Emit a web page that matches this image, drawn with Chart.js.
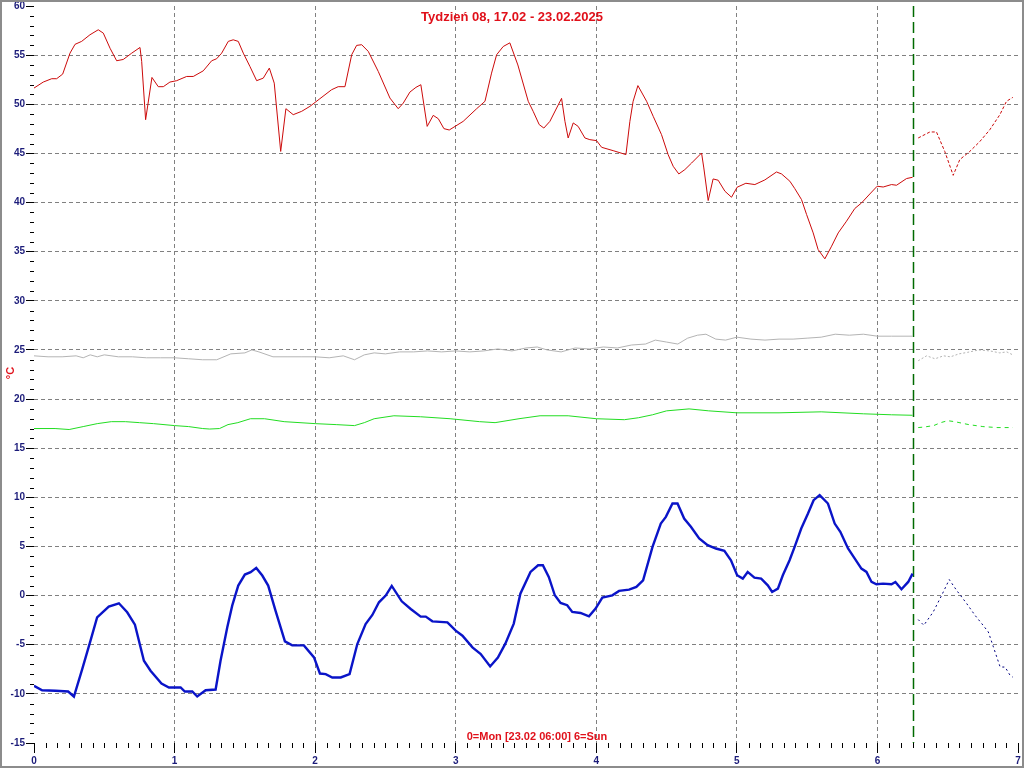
<!DOCTYPE html>
<html>
<head>
<meta charset="utf-8">
<title>Tydzień 08</title>
<script src="https://cdn.jsdelivr.net/npm/chart.js@4.4.0/dist/chart.umd.min.js"></script>
<style>
  html, body { margin: 0; padding: 0; background: #fff; }
  canvas { display: block; }
</style>
</head>
<body>
<canvas id="chart" width="1024" height="768"></canvas>
<script>
// x = day of week (0 = Mon 00:00), y = temperature in °C
const titleText = 'Tydzień 08, 17.02 - 23.02.2025';
const footText = '0=Mon [23.02 06:00] 6=Sun';
const yAxisText = '°C';
const nowDay = 6.25;

// red series (measured + forecast)
const redX = [0, 0.066, 0.126, 0.161, 0.204, 0.256, 0.292, 0.339, 0.398, 0.457,
  0.493, 0.541, 0.588, 0.635, 0.695, 0.754, 0.766, 0.794, 0.839, 0.884,
  0.92, 0.967, 1.015, 1.086, 1.133, 1.204, 1.264, 1.299, 1.335, 1.382,
  1.417, 1.453, 1.489, 1.536, 1.584, 1.631, 1.674, 1.709, 1.755, 1.792,
  1.844, 1.904, 1.963, 2.034, 2.117, 2.164, 2.212, 2.26, 2.295, 2.331,
  2.378, 2.449, 2.532, 2.591, 2.627, 2.674, 2.717, 2.752, 2.797, 2.84,
  2.876, 2.916, 2.954, 3.053, 3.149, 3.208, 3.255, 3.291, 3.338, 3.385,
  3.442, 3.516, 3.551, 3.594, 3.627, 3.67, 3.718, 3.753, 3.777, 3.8,
  3.836, 3.871, 3.919, 3.954, 4.002, 4.038, 4.12, 4.211, 4.239, 4.262,
  4.296, 4.358, 4.405, 4.464, 4.511, 4.547, 4.587, 4.63, 4.678, 4.749,
  4.765, 4.796, 4.831, 4.867, 4.915, 4.962, 5.002, 5.064, 5.128, 5.199,
  5.282, 5.318, 5.377, 5.412, 5.46, 5.496, 5.543, 5.578, 5.626, 5.674,
  5.721, 5.78, 5.839, 5.887, 5.946, 5.998, 6.041, 6.1, 6.136, 6.207, 6.25];
const redY = [51.65, 52.26, 52.6, 52.6, 53.07, 55.2, 56.1, 56.4, 57.07, 57.58,
  57.24, 55.7, 54.43, 54.56, 55.2, 55.78, 54.36, 48.43, 52.73, 51.79,
  51.79, 52.26, 52.4, 52.83, 52.83, 53.4, 54.43, 54.63, 55.2, 56.4,
  56.56, 56.4, 55.2, 53.85, 52.4, 52.66, 53.68, 52.15, 45.2, 49.55,
  48.94, 49.28, 49.79, 50.57, 51.48, 51.79, 51.79, 55.04, 55.99, 56.06,
  55.38, 53.34, 50.63, 49.55, 50.12, 51.24, 51.72, 51.99, 47.75, 48.87,
  48.53, 47.52, 47.38, 48.26, 49.55, 50.3, 53.17, 55.04, 55.88, 56.25,
  54.0, 50.3, 49.28, 47.93, 47.58, 48.26, 49.62, 50.6, 48.26, 46.57,
  48.1, 47.75, 46.57, 46.4, 46.3, 45.62, 45.28, 44.88, 48.26, 50.3,
  51.9, 50.3, 48.77, 46.91, 44.88, 43.69, 42.91, 43.35, 44.02, 45.04,
  43.52, 40.2, 42.4, 42.27, 41.15, 40.54, 41.56, 41.96, 41.83, 42.3,
  43.11, 42.91, 42.17, 41.42, 40.3, 38.78, 36.91, 35.22, 34.27, 35.56,
  36.91, 38.1, 39.39, 39.96, 40.87, 41.66, 41.58, 41.83, 41.76, 42.44, 42.57];
const redFcX = [6.29, 6.373, 6.42, 6.479, 6.539, 6.586, 6.657, 6.728, 6.799, 6.871, 6.918, 6.963];
const redFcY = [46.57, 47.18, 47.18, 45.2, 42.77, 44.37, 45.2, 46.2, 47.4, 48.94, 50.3, 50.7];

// gray series
const grayX = [0, 0.1, 0.2, 0.3, 0.35, 0.4, 0.45, 0.5, 0.6, 0.7, 0.8, 0.9, 1.0, 1.1, 1.2, 1.3, 1.4,
  1.5, 1.55, 1.6, 1.7, 1.8, 1.9, 2.0, 2.1, 2.2, 2.28, 2.35, 2.42, 2.5, 2.6, 2.7, 2.8, 2.9, 3.0,
  3.1, 3.2, 3.3, 3.4, 3.5, 3.58, 3.65, 3.75, 3.85, 3.95, 4.05, 4.15, 4.25, 4.35, 4.42, 4.5,
  4.58, 4.65, 4.72, 4.78, 4.85, 4.92, 5.0, 5.1, 5.2, 5.3, 5.4, 5.5, 5.6, 5.7, 5.8, 5.9, 6.0, 6.1, 6.25];
const grayY = [24.4, 24.3, 24.3, 24.4, 24.2, 24.5, 24.3, 24.5, 24.3, 24.3, 24.2, 24.2, 24.2, 24.1, 24.0, 24.0, 24.6,
  24.7, 25.0, 24.8, 24.3, 24.3, 24.3, 24.3, 24.2, 24.4, 24.0, 24.5, 24.7, 24.6, 24.8, 24.8, 24.9, 24.8, 24.9,
  24.8, 24.9, 25.1, 24.9, 25.2, 25.3, 25.0, 24.8, 25.2, 25.1, 25.3, 25.2, 25.5, 25.6, 26.0, 25.8,
  25.6, 26.2, 26.5, 26.6, 26.1, 26.0, 26.3, 26.1, 26.0, 26.1, 26.1, 26.2, 26.3, 26.6, 26.5, 26.6, 26.4, 26.4, 26.4];
const grayFcX = [6.29, 6.35, 6.41, 6.47, 6.52, 6.58, 6.64, 6.72, 6.8, 6.87, 6.92, 6.963];
const grayFcY = [23.9, 24.4, 24.1, 24.4, 24.3, 24.6, 24.75, 25.0, 24.9, 24.7, 24.8, 24.5];

// green series
const greenX = [0, 0.15, 0.25, 0.35, 0.45, 0.55, 0.65, 0.75, 0.85, 1.0,
  1.1, 1.2, 1.25, 1.32, 1.38, 1.45, 1.54, 1.64, 1.78, 2.0,
  2.15, 2.28, 2.35, 2.42, 2.56, 2.75, 2.96, 3.17, 3.28, 3.45,
  3.6, 3.8, 4.0, 4.2, 4.3, 4.4, 4.5, 4.66, 4.8, 5.0,
  5.3, 5.6, 5.9, 6.1, 6.25];
const greenY = [17.0, 17.0, 16.9, 17.2, 17.5, 17.7, 17.7, 17.6, 17.5, 17.3,
  17.2, 17.0, 16.95, 17.0, 17.4, 17.6, 18.0, 18.0, 17.7, 17.5,
  17.4, 17.3, 17.6, 18.0, 18.3, 18.2, 18.0, 17.7, 17.6, 18.0,
  18.3, 18.3, 18.0, 17.9, 18.1, 18.4, 18.8, 19.0, 18.8, 18.6,
  18.6, 18.7, 18.5, 18.4, 18.35];
const greenFcX = [6.29, 6.33, 6.4, 6.45, 6.5, 6.55, 6.65, 6.75, 6.85, 6.963];
const greenFcY = [17.1, 17.15, 17.3, 17.6, 17.8, 17.7, 17.4, 17.2, 17.1, 17.1];

// blue series (outdoor)
const blueX = [0, 0.058, 0.153, 0.243, 0.284, 0.343, 0.402, 0.449, 0.532, 0.604,
  0.663, 0.718, 0.782, 0.829, 0.907, 0.96, 1.043, 1.073, 1.126, 1.161,
  1.221, 1.292, 1.327, 1.375, 1.41, 1.453, 1.5, 1.541, 1.581, 1.624,
  1.666, 1.718, 1.785, 1.837, 1.92, 1.992, 2.034, 2.075, 2.122, 2.182,
  2.245, 2.3, 2.359, 2.407, 2.454, 2.502, 2.545, 2.616, 2.68, 2.751,
  2.787, 2.834, 2.941, 3.0, 3.048, 3.119, 3.178, 3.245, 3.3, 3.353,
  3.413, 3.46, 3.532, 3.586, 3.62, 3.662, 3.705, 3.746, 3.793, 3.829,
  3.888, 3.948, 3.995, 4.043, 4.114, 4.162, 4.233, 4.285, 4.333, 4.4,
  4.459, 4.495, 4.542, 4.578, 4.625, 4.673, 4.732, 4.792, 4.851, 4.911,
  4.958, 5.002, 5.042, 5.077, 5.125, 5.173, 5.22, 5.251, 5.292, 5.327,
  5.375, 5.411, 5.458, 5.506, 5.546, 5.589, 5.648, 5.696, 5.736, 5.791,
  5.839, 5.886, 5.922, 5.958, 5.993, 6.04, 6.1, 6.128, 6.171, 6.219, 6.25];
const blueY = [-9.18, -9.63, -9.69, -9.76, -10.27, -7.48, -4.59, -2.21, -1.12, -0.78,
  -1.7, -2.96, -6.63, -7.65, -8.95, -9.35, -9.35, -9.76, -9.76, -10.27,
  -9.63, -9.56, -6.63, -3.23, -1.02, 1.02, 2.14, 2.38, 2.82, 2.04,
  1.02, -1.53, -4.66, -5.07, -5.07, -6.29, -7.93, -7.99, -8.33, -8.33,
  -7.99, -4.93, -2.89, -1.97, -0.68, 0.0, 0.99, -0.58, -1.36, -2.14,
  -2.14, -2.62, -2.72, -3.57, -4.08, -5.27, -5.95, -7.21, -6.3, -4.89,
  -2.85, 0.2, 2.41, 3.09, 3.09, 1.9, 0.03, -0.75, -0.98, -1.66,
  -1.77, -2.11, -1.32, -0.2, 0.03, 0.48, 0.61, 0.88, 1.56, 4.96,
  7.33, 8.01, 9.37, 9.37, 7.84, 7.0, 5.81, 5.13, 4.79, 4.55,
  3.6, 2.07, 1.73, 2.41, 1.83, 1.73, 1.05, 0.37, 0.71, 2.07,
  3.6, 4.96, 6.83, 8.35, 9.71, 10.22, 9.37, 7.33, 6.49, 4.79,
  3.77, 2.75, 2.41, 1.39, 1.15, 1.22, 1.15, 1.39, 0.65, 1.39, 2.24];
const blueFcX = [6.29, 6.33, 6.397, 6.457, 6.511, 6.563, 6.635, 6.694, 6.742, 6.789, 6.825, 6.873, 6.908, 6.944, 6.963];
const blueFcY = [-2.44, -3.02, -1.66, 0.03, 1.63, 0.54, -0.81, -2.0, -2.85, -3.7, -5.23, -7.27, -7.27, -8.12, -8.3];

const FONT = "'Liberation Sans', Arial, sans-serif";
const NAVY = '#1c1c7a';
const RED_TXT = '#e0101a';

function series(xs, ys, color, width, dash) {
  return {
    data: xs.map((x, i) => ({ x: x, y: ys[i] })),
    showLine: true,
    borderColor: color,
    borderWidth: width,
    borderDash: dash || [],
    pointRadius: 0,
    tension: 0,
    fill: false
  };
}

function edgeColor(ctx, lo, hi) {
  const v = ctx.tick && ctx.tick.value;
  return (v === lo || v === hi) ? 'rgba(0,0,0,0)' : '#808080';
}

// frame, "now" marker, minor ticks and the texts
const decor = {
  id: 'decor',
  beforeDraw(chart) {
    const c = chart.ctx;
    c.save();
    c.fillStyle = '#fff';
    c.fillRect(0, 0, chart.width, chart.height);
    c.restore();
  },
  beforeDatasetsDraw(chart) {
    const c = chart.ctx, a = chart.chartArea;
    const x = Math.round(chart.scales.x.getPixelForValue(nowDay)) + 0.5;
    c.save();
    c.strokeStyle = '#006a00';
    c.lineWidth = 1.5;
    c.setLineDash([11, 5]);
    c.beginPath();
    c.moveTo(x, a.top);
    c.lineTo(x, a.bottom);
    c.stroke();
    c.restore();
  },
  afterDraw(chart) {
    const c = chart.ctx, a = chart.chartArea;
    const xs = chart.scales.x, ys = chart.scales.y;
    c.save();
    c.strokeStyle = '#000';
    c.lineWidth = 1;
    c.beginPath();
    for (let k = 1; k < 84; k++) {
      if (k % 12 === 0) continue;
      const px = Math.round(xs.getPixelForValue(k / 12)) + 0.5;
      c.moveTo(px, a.bottom);
      c.lineTo(px, a.bottom + 5);
    }
    for (let v = -14; v < 60; v++) {
      if (v % 5 === 0) continue;
      const py = Math.round(ys.getPixelForValue(v)) + 0.5;
      c.moveTo(a.left - 4, py);
      c.lineTo(a.left, py);
    }
    c.stroke();

    c.fillStyle = RED_TXT;
    c.textAlign = 'center';
    c.textBaseline = 'middle';
    c.font = 'bold 13px ' + FONT;
    c.fillText(titleText, 512, 17);
    c.font = 'bold 11px ' + FONT;
    c.fillText(footText, 537, 737);

    c.translate(11, 373);
    c.rotate(-Math.PI / 2);
    c.fillText(yAxisText, 0, 0);
    c.restore();

    c.save();
    c.strokeStyle = '#8c8c8c';
    c.lineWidth = 2;
    c.strokeRect(1, 1, chart.width - 2, chart.height - 2);
    c.restore();
  }
};

new Chart(document.getElementById('chart'), {
  type: 'scatter',
  data: {
    datasets: [
      series(grayX, grayY, '#b4b4b4', 1),
      series(grayFcX, grayFcY, '#b4b4b4', 1, [2, 2]),
      series(greenX, greenY, '#22dd22', 1),
      series(greenFcX, greenFcY, '#22dd22', 1, [4, 4]),
      series(redX, redY, '#cc0a0a', 1),
      series(redFcX, redFcY, '#cc0a0a', 1, [3, 2]),
      series(blueX, blueY, '#0a14c8', 2.4),
      series(blueFcX, blueFcY, '#000080', 1, [2, 3])
    ]
  },
  options: {
    responsive: false,
    animation: false,
    devicePixelRatio: 1,
    layout: { padding: { top: 5, right: 6, left: 0, bottom: 0 } },
    plugins: {
      legend: { display: false },
      tooltip: { enabled: false },
      title: { display: false }
    },
    scales: {
      x: {
        type: 'linear',
        min: 0,
        max: 7,
        afterFit(scale) { scale.height = 25; },
        ticks: {
          stepSize: 1,
          autoSkip: false,
          maxRotation: 0,
          padding: 2,
          color: NAVY,
          font: { family: FONT, size: 10, weight: 'bold' }
        },
        grid: {
          color: ctx => edgeColor(ctx, 0, 7),
          lineWidth: 1,
          tickColor: '#000',
          tickLength: 10,
          tickWidth: 1
        },
        border: { display: false, dash: [4, 3] }
      },
      y: {
        min: -15,
        max: 60,
        afterFit(scale) { scale.width = 34; },
        ticks: {
          stepSize: 5,
          padding: 1,
          color: NAVY,
          font: { family: FONT, size: 10, weight: 'bold', lineHeight: 1 }
        },
        grid: {
          color: ctx => edgeColor(ctx, -15, 60),
          lineWidth: 1,
          tickColor: '#000',
          tickLength: 8,
          tickWidth: 1
        },
        border: { display: false, dash: [4, 3] }
      }
    }
  },
  plugins: [decor]
});
</script>
</body>
</html>
